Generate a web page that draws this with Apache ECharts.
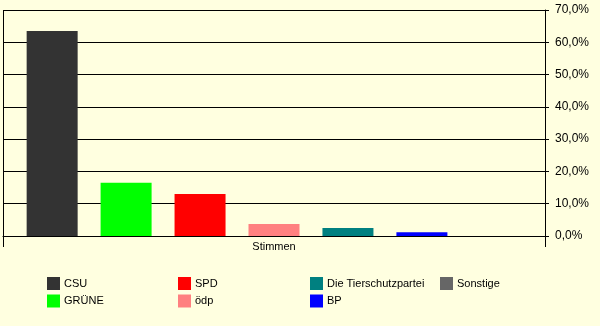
<!DOCTYPE html>
<html>
<head>
<meta charset="utf-8">
<script src="https://cdn.jsdelivr.net/npm/echarts@6/dist/echarts.min.js"></script>
<style>
html,body{margin:0;padding:0;background:#ffffe0;}
#chart{width:600px;height:326px;}
</style>
</head>
<body>
<div id="chart"></div>
<script>
const categories = ['Stimmen'];
const parties = ['CSU', 'GRÜNE', 'SPD', 'ödp', 'Die Tierschutzpartei', 'BP', 'Sonstige'];
const values = [63.5, 16.5, 13.0, 3.7, 2.5, 1.2, 0];
const colors = ['#333333', '#00ff00', '#ff0000', '#ff8080', '#008080', '#0000ff', '#666666'];
const yTicks = [0, 10, 20, 30, 40, 50, 60, 70];
const legendColumns = [['CSU', 'GRÜNE'], ['SPD', 'ödp'], ['Die Tierschutzpartei', 'BP'], ['Sonstige']];

const font = '"Liberation Sans", Arial, sans-serif';
const legendLefts = [47, 178, 310, 440];

const chart = echarts.init(document.getElementById('chart'), null, {renderer: 'canvas'});
chart.setOption({
  backgroundColor: '#ffffe0',
  animation: false,
  grid: {left: 3, right: 55, top: 10, bottom: 90, containLabel: false},
  legend: legendColumns.map((col, i) => ({
    data: col,
    orient: 'vertical',
    left: legendLefts[i],
    top: 277,
    icon: 'rect',
    itemWidth: 13,
    itemHeight: 13,
    itemGap: 4.5,
    padding: 0,
    selectedMode: false,
    textStyle: {fontFamily: font, fontSize: 11, color: '#000', padding: [0, 0, 0, -1]}
  })),
  xAxis: {
    type: 'category',
    data: categories,
    boundaryGap: true,
    axisLine: {show: true, lineStyle: {color: '#000', width: 1}},
    axisTick: {show: true, length: 11, lineStyle: {color: '#000'}},
    splitLine: {show: true, lineStyle: {color: '#000', width: 1}},
    axisLabel: {fontFamily: font, fontSize: 11, color: '#000', margin: 5}
  },
  yAxis: {
    type: 'value',
    position: 'right',
    min: yTicks[0],
    max: yTicks[yTicks.length - 1],
    interval: yTicks[1] - yTicks[0],
    axisLine: {show: true, lineStyle: {color: '#000', width: 1}},
    axisTick: {show: true, length: 4, lineStyle: {color: '#000'}},
    splitLine: {show: true, lineStyle: {color: '#000', width: 1}},
    axisLabel: {
      fontFamily: font, fontSize: 12, color: '#000', margin: 10,
      formatter: v => v.toFixed(1).replace('.', ',') + '%'
    }
  },
  series: parties.map((p, i) => ({
    name: p,
    type: 'bar',
    data: [values[i]],
    barWidth: 51,
    barGap: '45%',
    itemStyle: {color: colors[i]},
    emphasis: {disabled: true}
  }))
});
</script>
</body>
</html>
